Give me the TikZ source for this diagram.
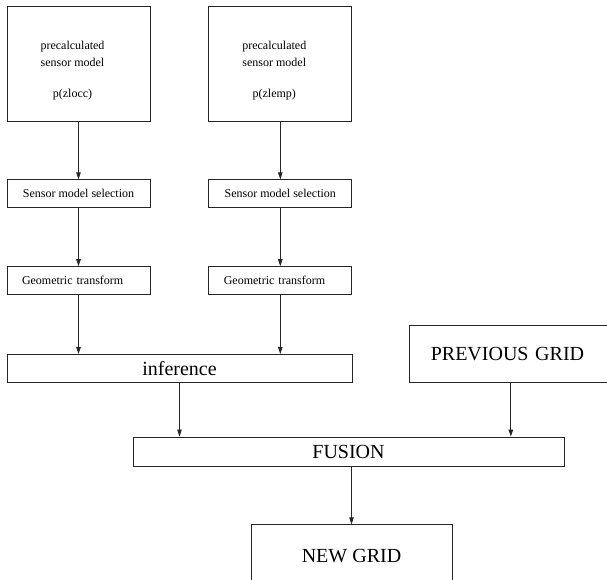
\documentclass[tikz,border=0pt]{standalone}
\usepackage{fontspec}
\setmainfont{Liberation Serif}
\usetikzlibrary{positioning,arrows.meta}
\tikzset{
    model box/.style = {
        draw,
        minimum width=143pt,
        minimum height=115pt,
        },
    model text/.style = {
        align=center,
        font=\fontsize{12}{17}\selectfont,
        },
    step box/.style = {
        draw,
        minimum width=143pt,
        minimum height=28pt,
        font=\fontsize{12}{15}\selectfont,
        },
    geo box/.style = {
        step box,
        text width=113pt,
        inner xsep=15pt,
        align=left,
        },
    grid box/.style = {
        draw,
        minimum height=28pt,
        font=\fontsize{20}{24}\selectfont,
        },
    flow/.style = {
        -{Triangle[length=7pt,width=4.5pt]},
        },
}

\begin{document}
\begin{tikzpicture}[x=1pt,y=1pt,line width=0.8pt,draw=black!85]
            \useasboundingbox (0,0) rectangle (607,580);
            \clip (0,0) rectangle (607,580);

            \node[model box] (occ model) at (78.5,516.5) {};
            \node[model box, right=58pt of occ model] (emp model) {};
            \node[model text] (occ text) at ([shift={(-6,-7)}]occ model.center) {precalculated\\sensor model\\[14pt]p(zlocc)};
            \node[model text] (emp text) at ([shift={(-6,-7)}]emp model.center) {precalculated\\sensor model\\[14pt]p(zlemp)};

            \node[step box, below=58pt of occ model] (occ select) {Sensor model selection};
            \node[step box, below=58pt of emp model] (emp select) {Sensor model selection};
            \node[geo box, below=58pt of occ select] (occ geo) {Geometric transform};
            \node[geo box, below=58pt of emp select] (emp geo) {Geometric transform};

            \node[grid box, minimum width=345pt, below=59pt of occ geo.south west, anchor=north west] (inference) {inference};
            \node[grid box, minimum width=202pt, minimum height=57pt, text width=160pt, inner xsep=21pt, align=left,
                right=57pt of inference.south east, anchor=south west] (prev grid) {PREVIOUS GRID};
            \node[grid box, minimum width=431pt, minimum height=29pt] (fusion) at (348.5,128.5) {FUSION};
            \node[grid box, minimum width=201pt, minimum height=62pt, below=58pt of fusion, xshift=3pt] (new grid) {NEW GRID};

            \path (occ model) edge[flow] (occ select);
            \path (emp model) edge[flow] (emp select);
            \path (occ select) edge[flow] (occ geo);
            \path (emp select) edge[flow] (emp geo);
            \path (occ geo) edge[flow] (occ geo |- inference.north);
            \path (emp geo) edge[flow] (emp geo |- inference.north);
            \path (inference) edge[flow] (inference |- fusion.north);
            \path (prev grid) edge[flow] (prev grid |- fusion.north);
            \path (fusion.south -| new grid) edge[flow] (new grid);
        \end{tikzpicture}
\end{document}
